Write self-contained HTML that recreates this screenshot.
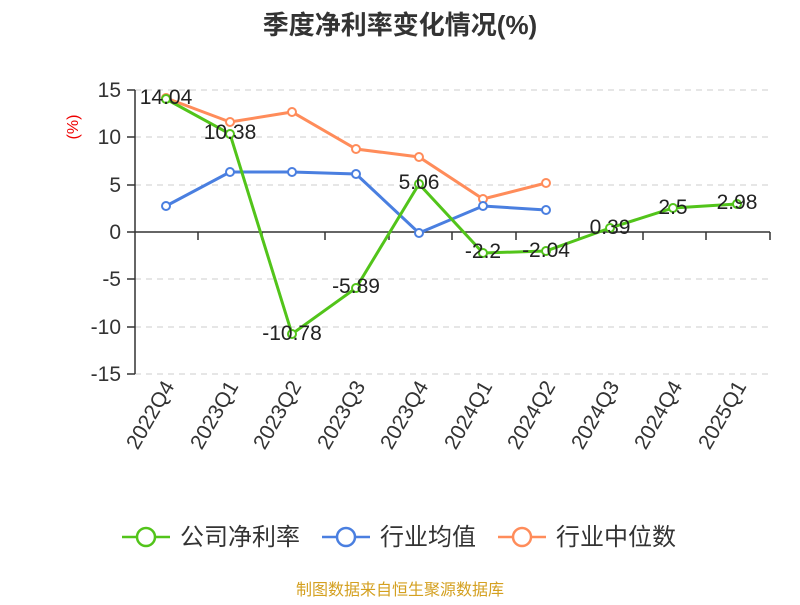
<!DOCTYPE html>
<html><head><meta charset="utf-8"><style>
body{margin:0;background:#fff;}
svg text{font-family:"Liberation Sans","Noto Sans CJK SC",sans-serif;}
</style></head><body>
<svg width="800" height="600" xmlns="http://www.w3.org/2000/svg">
<text x="400" y="34" text-anchor="middle" font-size="26" font-weight="bold" fill="#333">季度净利率变化情况(%)</text>
<text x="78" y="127" font-size="16" fill="#e00" transform="rotate(-90 78 127)" text-anchor="middle">(%)</text>
<g stroke="#ccc" stroke-dasharray="6,5" stroke-width="1">
<line x1="135" y1="90" x2="770" y2="90"/><line x1="135" y1="137" x2="770" y2="137"/>
<line x1="135" y1="185" x2="770" y2="185"/><line x1="135" y1="279" x2="770" y2="279"/>
<line x1="135" y1="327" x2="770" y2="327"/><line x1="135" y1="374" x2="770" y2="374"/>
</g>
<g stroke="#333" stroke-width="1.5">
<line x1="135" y1="232" x2="770" y2="232"/>
<line x1="135" y1="90" x2="135" y2="374"/>
<line x1="127" y1="90" x2="135" y2="90"/><line x1="127" y1="137" x2="135" y2="137"/><line x1="127" y1="185" x2="135" y2="185"/><line x1="127" y1="232" x2="135" y2="232"/><line x1="127" y1="279" x2="135" y2="279"/><line x1="127" y1="327" x2="135" y2="327"/><line x1="127" y1="374" x2="135" y2="374"/>
<line x1="198" y1="232" x2="198" y2="240"/><line x1="262" y1="232" x2="262" y2="240"/><line x1="325" y1="232" x2="325" y2="240"/><line x1="389" y1="232" x2="389" y2="240"/><line x1="452" y1="232" x2="452" y2="240"/><line x1="516" y1="232" x2="516" y2="240"/><line x1="579" y1="232" x2="579" y2="240"/><line x1="643" y1="232" x2="643" y2="240"/><line x1="706" y1="232" x2="706" y2="240"/><line x1="770" y1="232" x2="770" y2="240"/>
</g>
<g font-size="21" fill="#333" text-anchor="end">
<text x="121" y="97">15</text><text x="121" y="144">10</text><text x="121" y="192">5</text><text x="121" y="239">0</text><text x="121" y="286">-5</text><text x="121" y="334">-10</text><text x="121" y="381">-15</text>
</g>
<g font-size="21" fill="#333" text-anchor="end">
<text transform="translate(175 386) rotate(-60)">2022Q4</text>
<text transform="translate(239 386) rotate(-60)">2023Q1</text>
<text transform="translate(302 386) rotate(-60)">2023Q2</text>
<text transform="translate(366 386) rotate(-60)">2023Q3</text>
<text transform="translate(429 386) rotate(-60)">2023Q4</text>
<text transform="translate(493 386) rotate(-60)">2024Q1</text>
<text transform="translate(556 386) rotate(-60)">2024Q2</text>
<text transform="translate(620 386) rotate(-60)">2024Q3</text>
<text transform="translate(683 386) rotate(-60)">2024Q4</text>
<text transform="translate(747 386) rotate(-60)">2025Q1</text>
</g>
<g fill="none" stroke-width="3">
<polyline stroke="#ff8c5a" points="166,98 230,122 292,112 356,149 419,157 483,199 546,183"/>
<polyline stroke="#4a7fe0" points="166,206 230,172 292,172 356,174 419,233 483,206 546,210"/>
<polyline stroke="#52c41a" points="166,99 230,134 292,334 356,288 419,184 483,253 546,251 610,228 673,208 737,204"/>
</g>
<g fill="#fff" stroke-width="2">
<g stroke="#ff8c5a"><circle cx="166" cy="98" r="4"/><circle cx="230" cy="122" r="4"/><circle cx="292" cy="112" r="4"/><circle cx="356" cy="149" r="4"/><circle cx="419" cy="157" r="4"/><circle cx="483" cy="199" r="4"/><circle cx="546" cy="183" r="4"/></g>
<g stroke="#4a7fe0"><circle cx="166" cy="206" r="4"/><circle cx="230" cy="172" r="4"/><circle cx="292" cy="172" r="4"/><circle cx="356" cy="174" r="4"/><circle cx="419" cy="233" r="4"/><circle cx="483" cy="206" r="4"/><circle cx="546" cy="210" r="4"/></g>
<g stroke="#52c41a"><circle cx="166" cy="99" r="4"/><circle cx="230" cy="134" r="4"/><circle cx="292" cy="334" r="4"/><circle cx="356" cy="288" r="4"/><circle cx="419" cy="184" r="4"/><circle cx="483" cy="253" r="4"/><circle cx="546" cy="251" r="4"/><circle cx="610" cy="228" r="4"/><circle cx="673" cy="208" r="4"/><circle cx="737" cy="204" r="4"/></g>
</g>
<g font-size="21" fill="#222" text-anchor="middle">
<text x="166" y="104">14.04</text><text x="230" y="139">10.38</text><text x="292" y="340">-10.78</text><text x="356" y="293">-5.89</text><text x="419" y="189">5.06</text><text x="483" y="258">-2.2</text><text x="546" y="257">-2.04</text><text x="610" y="234">0.39</text><text x="673" y="214">2.5</text><text x="737" y="209">2.98</text>
</g>
<g stroke-width="2.5" fill="#fff">
<line x1="122" y1="537" x2="170" y2="537" stroke="#52c41a"/><circle cx="146" cy="537" r="9" stroke="#52c41a"/>
<line x1="322" y1="537" x2="370" y2="537" stroke="#4a7fe0"/><circle cx="346" cy="537" r="9" stroke="#4a7fe0"/>
<line x1="498" y1="537" x2="546" y2="537" stroke="#ff8c5a"/><circle cx="522" cy="537" r="9" stroke="#ff8c5a"/>
</g>
<g font-size="24" fill="#333">
<text x="180" y="545">公司净利率</text><text x="380" y="545">行业均值</text><text x="556" y="545">行业中位数</text>
</g>
<text x="400" y="595" text-anchor="middle" font-size="16" fill="#d4a020">制图数据来自恒生聚源数据库</text>
</svg>
</body></html>
